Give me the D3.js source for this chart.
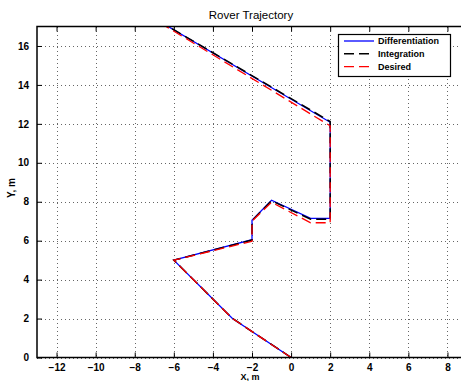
<!DOCTYPE html>
<html>
<head>
<meta charset="utf-8">
<script src="https://cdn.jsdelivr.net/npm/d3@7"></script>
<style>
  html, body { margin: 0; padding: 0; background: #fff; }
  svg { display: block; font-family: "Liberation Sans", Arial, Helvetica, sans-serif; }
</style>
</head>
<body>
<svg id="chart" width="461" height="381"></svg>
<script>
// Rover path, metres: x and y for each series
const diffX  = [0, -3, -6, -2, -2, -1, 1, 2, 2, -7.3];
const diffY  = [0, 2, 5, 6.05, 7.05, 8.08, 7.15, 7.15, 12.08, 17.6];
const integX = [0, -3.02, -6, -2, -2, -1, 1, 2, 2, -7.3];
const integY = [0, 2.02, 5, 6.03, 7.03, 8.05, 7.1, 7.1, 12.12, 17.6];
const desX   = [0, -3, -6, -2, -2, -1, 1, 2, 2, -7.3];
const desY   = [0, 2, 5, 5.97, 7, 7.97, 6.92, 6.92, 11.9, 17.55];

const seriesNames = ["Differentiation", "Integration", "Desired"];
const xTicks = [-12, -10, -8, -6, -4, -2, 0, 2, 4, 6, 8];
const yTicks = [0, 2, 4, 6, 8, 10, 12, 14, 16];
const xDomain = [-13, 9];
const yDomain = [0, 17];

const svg = d3.select("#chart");
const mLeft = 37, mRight = 467, mTop = 26.5, mBottom = 357.5;

const x = d3.scaleLinear().domain(xDomain).range([mLeft, mRight]);
const y = d3.scaleLinear().domain(yDomain).range([mBottom, mTop]);

const fmt = v => (v < 0 ? "\u2212" + Math.abs(v) : String(v));

// dotted grid
const grid = svg.append("g").attr("stroke", "#666").attr("stroke-width", 1)
  .attr("stroke-dasharray", "1,3").attr("shape-rendering", "crispEdges");
grid.selectAll("line.gx").data(xTicks).join("line").attr("class", "gx")
  .attr("x1", d => Math.round(x(d)) + 0.5).attr("x2", d => Math.round(x(d)) + 0.5)
  .attr("y1", mTop).attr("y2", mBottom);
grid.selectAll("line.gy").data(yTicks).join("line").attr("class", "gy")
  .attr("y1", d => Math.round(y(d)) + 0.5).attr("y2", d => Math.round(y(d)) + 0.5)
  .attr("x1", mLeft).attr("x2", mRight);

// axes with inward ticks
const tickLen = 5;
const xAxisB = d3.axisBottom(x).tickValues(xTicks).tickSize(-tickLen).tickPadding(6).tickFormat(fmt);
const xAxisT = d3.axisTop(x).tickValues(xTicks).tickSize(-tickLen).tickFormat("");
const yAxisL = d3.axisLeft(y).tickValues(yTicks).tickSize(-tickLen).tickPadding(8).tickFormat(fmt);

function style(g) {
  g.select(".domain").remove();
  g.selectAll(".tick line").attr("stroke", "#000").attr("stroke-width", 1);
  g.selectAll(".tick text").attr("fill", "#000").attr("font-size", 10)
    .attr("font-weight", "bold").attr("font-family", "Liberation Sans, Arial, sans-serif");
}
svg.append("g").attr("transform", `translate(0,${mBottom})`).call(xAxisB).call(style);
svg.append("g").attr("transform", `translate(0,${mTop})`).call(xAxisT).call(style);
svg.append("g").attr("transform", `translate(${mLeft},0)`).call(yAxisL).call(style);

// trajectories
svg.append("clipPath").attr("id", "plotclip")
  .append("rect").attr("x", mLeft).attr("y", mTop).attr("width", mRight - mLeft).attr("height", mBottom - mTop);

const line = d3.line().x(d => x(d[0])).y(d => y(d[1]));
const series = [
  { name: seriesNames[0], pts: d3.zip(diffX, diffY),  color: "#0000ff", dash: null,   w: 1.3 },
  { name: seriesNames[1], pts: d3.zip(integX, integY), color: "#000000", dash: "10,5", w: 1.5 },
  { name: seriesNames[2], pts: d3.zip(desX, desY),    color: "#ff0000", dash: "10,5", w: 1.3 }
];
const plot = svg.append("g").attr("clip-path", "url(#plotclip)");
series.forEach(s => {
  plot.append("path").datum(s.pts).attr("d", line)
    .attr("fill", "none").attr("stroke", s.color).attr("stroke-width", s.w)
    .attr("stroke-dasharray", s.dash).attr("stroke-linejoin", "miter");
});

// frame
svg.append("rect").attr("x", mLeft).attr("y", mTop).attr("width", mRight - mLeft).attr("height", mBottom - mTop)
  .attr("fill", "none").attr("stroke", "#000").attr("stroke-width", 1.5);

// legend
const lg = svg.append("g");
lg.append("rect").attr("x", 338.5).attr("y", 34.5).attr("width", 112).attr("height", 42)
  .attr("fill", "#fff").attr("stroke", "#000").attr("stroke-width", 1.2);
series.forEach((s, i) => {
  const ly = 41 + i * 12.8;
  lg.append("line").attr("x1", 344).attr("x2", 374).attr("y1", ly).attr("y2", ly)
    .attr("stroke", s.color).attr("stroke-width", s.w).attr("stroke-dasharray", s.dash);
  lg.append("text").attr("x", 378).attr("y", ly).attr("dy", "0.35em")
    .attr("font-size", 9).attr("font-weight", "bold").text(s.name);
});

// title and axis labels
svg.append("text").attr("x", 251).attr("y", 18.5).attr("text-anchor", "middle")
  .attr("font-size", 11.5).text("Rover Trajectory");
svg.append("text").attr("x", 250).attr("y", 379.5).attr("text-anchor", "middle")
  .attr("font-size", 9).attr("font-weight", "bold").text("X, m");
svg.append("text").attr("transform", "translate(15,188) rotate(-90)").attr("text-anchor", "middle")
  .attr("font-size", 10).attr("font-weight", "bold").text("Y, m");
</script>
</body>
</html>
